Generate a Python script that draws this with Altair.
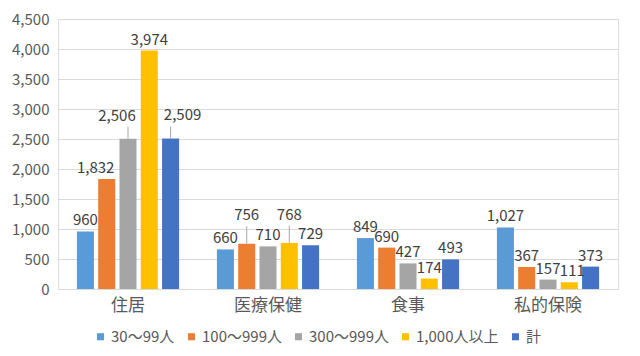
import altair as alt
import pandas as pd

categories = ["住居", "医療保健", "食事", "私的保険"]
series = ["30～99人", "100～999人", "300～999人", "1,000人以上", "計"]
v_30_99 = [960, 660, 849, 1027]
v_100_999 = [1832, 756, 690, 367]
v_300_999 = [2506, 710, 427, 157]
v_1000 = [3974, 768, 174, 111]
v_total = [2509, 729, 493, 373]
# extra label lift (data units) for labels that use leader lines
lift_30_99 = [0, 0, 0, 0]
lift_100_999 = [0, 290, 0, 0]
lift_300_999 = [200, 0, 0, 0]
lift_1000 = [0, 290, 0, 0]
lift_total = [200, 0, 0, 0]
# label side nudge: -2 far left, -1 left, 0 centred, 1 right, 2 far right
side_30_99 = [0, 0, 0, 0]
side_100_999 = [-2, 0, 0, 0]
side_300_999 = [-2, 0, 0, 0]
side_1000 = [0, 0, 0, 1]
side_total = [2, 0, 0, 0]

colors = ["#5B9BD5", "#ED7D31", "#A5A5A5", "#FFC000", "#4472C4"]

rows = []
for s, vals, lifts, sides in zip(series,
                          [v_30_99, v_100_999, v_300_999, v_1000, v_total],
                          [lift_30_99, lift_100_999, lift_300_999, lift_1000, lift_total],
                          [side_30_99, side_100_999, side_300_999, side_1000, side_total]):
    for c, v, l, sd in zip(categories, vals, lifts, sides):
        rows.append({"cat": c, "series": s, "value": v, "lift": l, "side": sd,
                     "labely": v + l})
df = pd.DataFrame(rows)

FONT = "Noto Sans CJK JP"
yscale = alt.Scale(domain=[0, 4500])
yaxis = alt.Axis(values=list(range(0, 4501, 500)), format=",.0f",
                 labelFontSize=15, labelColor="#595959", labelFont=FONT,
                 ticks=False, domain=False, gridColor="#D9D9D9",
                 labelPadding=9, title=None)

x = alt.X("cat:N", sort=categories, title=None,
          scale=alt.Scale(paddingInner=0.27, paddingOuter=0.135),
          axis=alt.Axis(labelAngle=0, labelFontSize=17, labelColor="#595959",
                        labelFont=FONT, ticks=False, domain=False, labelPadding=8))
xo = alt.XOffset("series:N", sort=series, scale=alt.Scale(paddingInner=0.2))
color = alt.Color("series:N", sort=series,
                  scale=alt.Scale(domain=series, range=colors),
                  legend=alt.Legend(title=None, orient="none", direction="horizontal",
                                    legendX=35, legendY=310, symbolType="square",
                                    symbolSize=50, labelFontSize=15, labelFont=FONT,
                                    labelColor="#595959", columnPadding=9,
                                    labelOffset=3, padding=0, symbolStrokeWidth=0))

base = alt.Chart(df)

bars = base.mark_bar().encode(
    x=x, xOffset=xo,
    y=alt.Y("value:Q", title=None, scale=yscale, axis=yaxis),
    color=color,
)

leaders = base.transform_filter("datum.lift > 0").mark_rule(
    color="#A6A6A6", strokeWidth=1).encode(
    x=x, xOffset=xo,
    y=alt.Y("value:Q", title=None, scale=yscale, axis=yaxis),
    y2="labely:Q",
)

def label_layer(side, dx):
    return base.transform_filter(f"datum.side == {side}").mark_text(
        baseline="bottom", dy=-3, dx=dx, fontSize=15, font=FONT,
        color="#404040").encode(
        x=x, xOffset=xo,
        y=alt.Y("labely:Q", title=None, scale=yscale, axis=yaxis),
        text=alt.Text("value:Q", format=","),
    )

labels = (label_layer(0, 0) + label_layer(-2, -11) + label_layer(2, 12)
          + label_layer(-1, -3) + label_layer(1, 3))

chart = (bars + leaders + labels).properties(
    width=560, height=270,
    autosize=alt.AutoSizeParams(type="none"),
    padding={"left": 50, "top": 11, "right": 14, "bottom": 59},
).configure_view(stroke=None).configure(background="white")

chart.save("out.html", embed_options={"renderer": "svg", "actions": False})
